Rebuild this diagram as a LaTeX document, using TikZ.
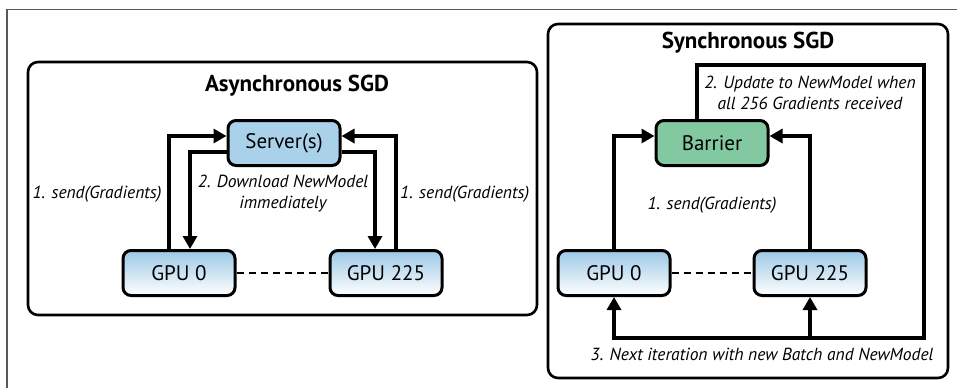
\documentclass[tikz,border=0pt]{standalone}
\usepackage{fontspec}
\setmainfont{PT Sans}
\usepackage{xcolor}
\usetikzlibrary{arrows.meta}

\definecolor{serverblue}{HTML}{A9D1EA}
\definecolor{gputop}{HTML}{9CC8E6}
\definecolor{barriergreen}{HTML}{82C9A2}

\tikzset{
  panel/.style={draw, line width=2.6pt, rounded corners=10pt},
  box/.style={draw, line width=3pt, rounded corners=8pt,
    minimum width=112pt, minimum height=45pt,
    font=\fontsize{21}{24}\selectfont},
  gpubox/.style={box, top color=gputop, bottom color=white},
  flow/.style={line width=4pt, -{Triangle[length=13pt,width=14pt]}},
  lbl/.style={font=\itshape\fontsize{17.5}{21}\selectfont, align=center, inner sep=1pt},
  ttl/.style={font=\bfseries\fontsize{23}{26}\selectfont}
}

\begin{document}
\begin{tikzpicture}[x=1pt,y=-1pt]
  \useasboundingbox (0,0) rectangle (957,388);
  % outer frame
  \draw[gray!70!black, line width=1.5pt] (7,388) -- (7,9.5) -- (957,9.5);

  % asynchronous
  \draw[panel] (28,62) rectangle (537,315);
  \node[ttl] (asyncTitle) at (297,86) {Asynchronous SGD};
  \node[box, fill=serverblue] (server) at (284,143) {Server(s)};
  \node[gpubox] (gpuA) at (179,273) {GPU 0};
  \node[gpubox] (gpuB) at (386,273) {GPU 225};
  \draw[line width=1.8pt, dash pattern=on 7pt off 5pt] (gpuA) -- (gpuB);
  \draw[flow] ([xshift=-10pt]gpuA.north) |- ([yshift=7pt]server.west);
  \draw[flow] ([yshift=-9pt]server.west) -| ([xshift=11pt]gpuA.north);
  \draw[flow] ([xshift=10pt]gpuB.north) |- ([yshift=7pt]server.east);
  \draw[flow] ([yshift=-9pt]server.east) -| ([xshift=-11pt]gpuB.north);
  \node[lbl] (sendA) at (97,194) {1. send(Gradients)};
  \node[lbl, anchor=west] (sendB) at (399,194) {1. send(Gradients)};
  \node[lbl] (download) at (283,194) {2. Download NewModel\\immediately};

  % synchronous
  \draw[panel] (548,24) rectangle (948,378);
  \node[ttl] (syncTitle) at (748,43) {Synchronous SGD};
  \node[box, fill=barriergreen] (barrier) at (712,143) {Barrier};
  \node[gpubox] (gpuC) at (614,273) {GPU 0};
  \node[gpubox] (gpuD) at (810,273) {GPU 225};
  \draw[line width=1.8pt, dash pattern=on 7pt off 5pt] (gpuC) -- (gpuD);
  \draw[flow] (gpuC.north) |- ([yshift=7pt]barrier.west);
  \draw[flow] (gpuD.north) |- ([yshift=7pt]barrier.east);
  \coordinate (loopNE) at (924,65);
  \coordinate (loopSE) at (924,338);
  \draw[flow] ([xshift=-15pt]barrier.north) |- (loopNE) -- (loopSE) -| (gpuC.south);
  \draw[flow] (gpuD.south |- loopSE) -- (gpuD.south);
  \node[lbl] (sendC) at (712,205) {1. send(Gradients)};
  \node[lbl] (update) at (810,93) {2. Update to NewModel when\\all 256 Gradients received};
  \node[lbl] (next) at (762,354) {3. Next iteration with new Batch and NewModel};
\end{tikzpicture}
\end{document}
